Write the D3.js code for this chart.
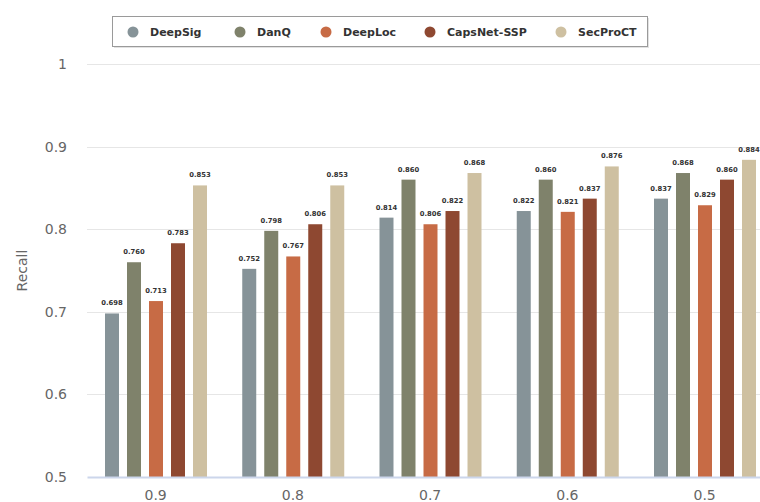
<!DOCTYPE html>
<html>
<head>
<meta charset="utf-8">
<script src="https://cdn.jsdelivr.net/npm/d3@7"></script>
<style>
  html, body { margin: 0; padding: 0; background: #fff; }
  svg { display: block; font-family: "DejaVu Sans", "Lucida Grande", sans-serif; }
</style>
</head>
<body>
<svg id="chart" width="760" height="502"></svg>
<script>
// Recall thresholds along the x axis
const thresholds = ["0.9", "0.8", "0.7", "0.6", "0.5"];
// Models compared
const models = ["DeepSig", "DanQ", "DeepLoc", "CapsNet-SSP", "SecProCT"];
const modelColors = ["#869398", "#7f826b", "#c76b45", "#8e4831", "#cec0a1"];
// Recall per model, one value per threshold
const deepSig    = [0.698, 0.752, 0.814, 0.822, 0.837];
const danQ       = [0.760, 0.798, 0.860, 0.860, 0.868];
const deepLoc    = [0.713, 0.767, 0.806, 0.821, 0.829];
const capsNetSSP = [0.783, 0.806, 0.822, 0.837, 0.860];
const secProCT   = [0.853, 0.853, 0.868, 0.876, 0.884];
const yTicks = [0.5, 0.6, 0.7, 0.8, 0.9, 1];

const seriesValues = [deepSig, danQ, deepLoc, capsNetSSP, secProCT];
const rows = thresholds.map((t, i) => ({
  threshold: t,
  values: models.map((m, j) => ({ model: m, value: seriesValues[j][i], color: modelColors[j] }))
}));

const svg = d3.select("#chart");
const plot = { left: 87, right: 773.25, top: 64, bottom: 477 };

const x = d3.scaleBand().domain(thresholds).range([plot.left, plot.right]).padding(0);
const xInner = d3.scaleBand().domain(models).range([18, 120]).paddingInner(0.364).paddingOuter(0);
const y = d3.scaleLinear().domain([0.5, 1]).range([plot.bottom, plot.top]);

// Horizontal grid lines
svg.append("g")
  .selectAll("line")
  .data(yTicks.filter(d => d > 0.5))
  .join("line")
  .attr("x1", plot.left).attr("x2", 760)
  .attr("y1", d => Math.round(y(d)) + 0.5).attr("y2", d => Math.round(y(d)) + 0.5)
  .attr("stroke", "#e6e6e6").attr("stroke-width", 1);

// Y axis (labels only)
const yAxis = svg.append("g")
  .attr("transform", `translate(${plot.left - 20},0)`)
  .call(d3.axisLeft(y).tickValues(yTicks).tickFormat(d3.format("~g")).tickSize(0).tickPadding(0));
yAxis.select(".domain").remove();
yAxis.selectAll("text")
  .attr("font-size", 14).attr("fill", "#666")
  .attr("font-family", "DejaVu Sans, sans-serif");

// Y axis title
svg.append("text")
  .attr("transform", `translate(27,${(plot.top + plot.bottom) / 2}) rotate(-90)`)
  .attr("text-anchor", "middle")
  .attr("font-size", 14).attr("fill", "#666")
  .text("Recall");

// Bars
const groups = svg.append("g")
  .selectAll("g")
  .data(rows)
  .join("g")
  .attr("transform", d => `translate(${x(d.threshold)},0)`);

groups.selectAll("rect")
  .data(d => d.values)
  .join("rect")
  .attr("x", d => xInner(d.model))
  .attr("width", xInner.bandwidth())
  .attr("y", d => y(d.value))
  .attr("height", d => y(0.5) - y(d.value))
  .attr("fill", d => d.color);

// Value labels above bars
groups.selectAll("text")
  .data(d => d.values)
  .join("text")
  .attr("x", d => xInner(d.model) + xInner.bandwidth() / 2)
  .attr("y", d => y(d.value) - 8)
  .attr("text-anchor", "middle")
  .attr("font-size", 6.8).attr("font-weight", "bold")
  .attr("fill", "#333")
  .text(d => d.value.toFixed(3));

// X axis
const xAxis = svg.append("g")
  .attr("transform", `translate(0,${plot.bottom})`)
  .call(d3.axisBottom(x).tickSize(0).tickPadding(13));
xAxis.select(".domain").attr("stroke", "#ccd6eb").attr("stroke-width", 2);
xAxis.selectAll("text")
  .attr("font-size", 14).attr("fill", "#666")
  .attr("font-family", "DejaVu Sans, sans-serif");

// Legend
const legend = svg.append("g");
const box = { x: 112.5, y: 16.5, w: 535, h: 30 };
const legendX = [133, 240, 326, 430, 561];
legend.append("rect")
  .attr("x", box.x + 1.5).attr("y", box.y + 1.5).attr("width", box.w).attr("height", box.h)
  .attr("fill", "#e2e2e2");
legend.append("rect")
  .attr("x", box.x).attr("y", box.y).attr("width", box.w).attr("height", box.h)
  .attr("fill", "#fff").attr("stroke", "#9a9a9a").attr("stroke-width", 1);

models.forEach((m, i) => {
  const item = legend.append("g");
  item.append("circle").attr("cx", legendX[i]).attr("cy", 32).attr("r", 5.5).attr("fill", modelColors[i]);
  item.append("text")
    .attr("x", legendX[i] + 17).attr("y", 36)
    .attr("font-size", 11).attr("font-weight", "bold").attr("fill", "#333")
    .text(m);
});
</script>
</body>
</html>
